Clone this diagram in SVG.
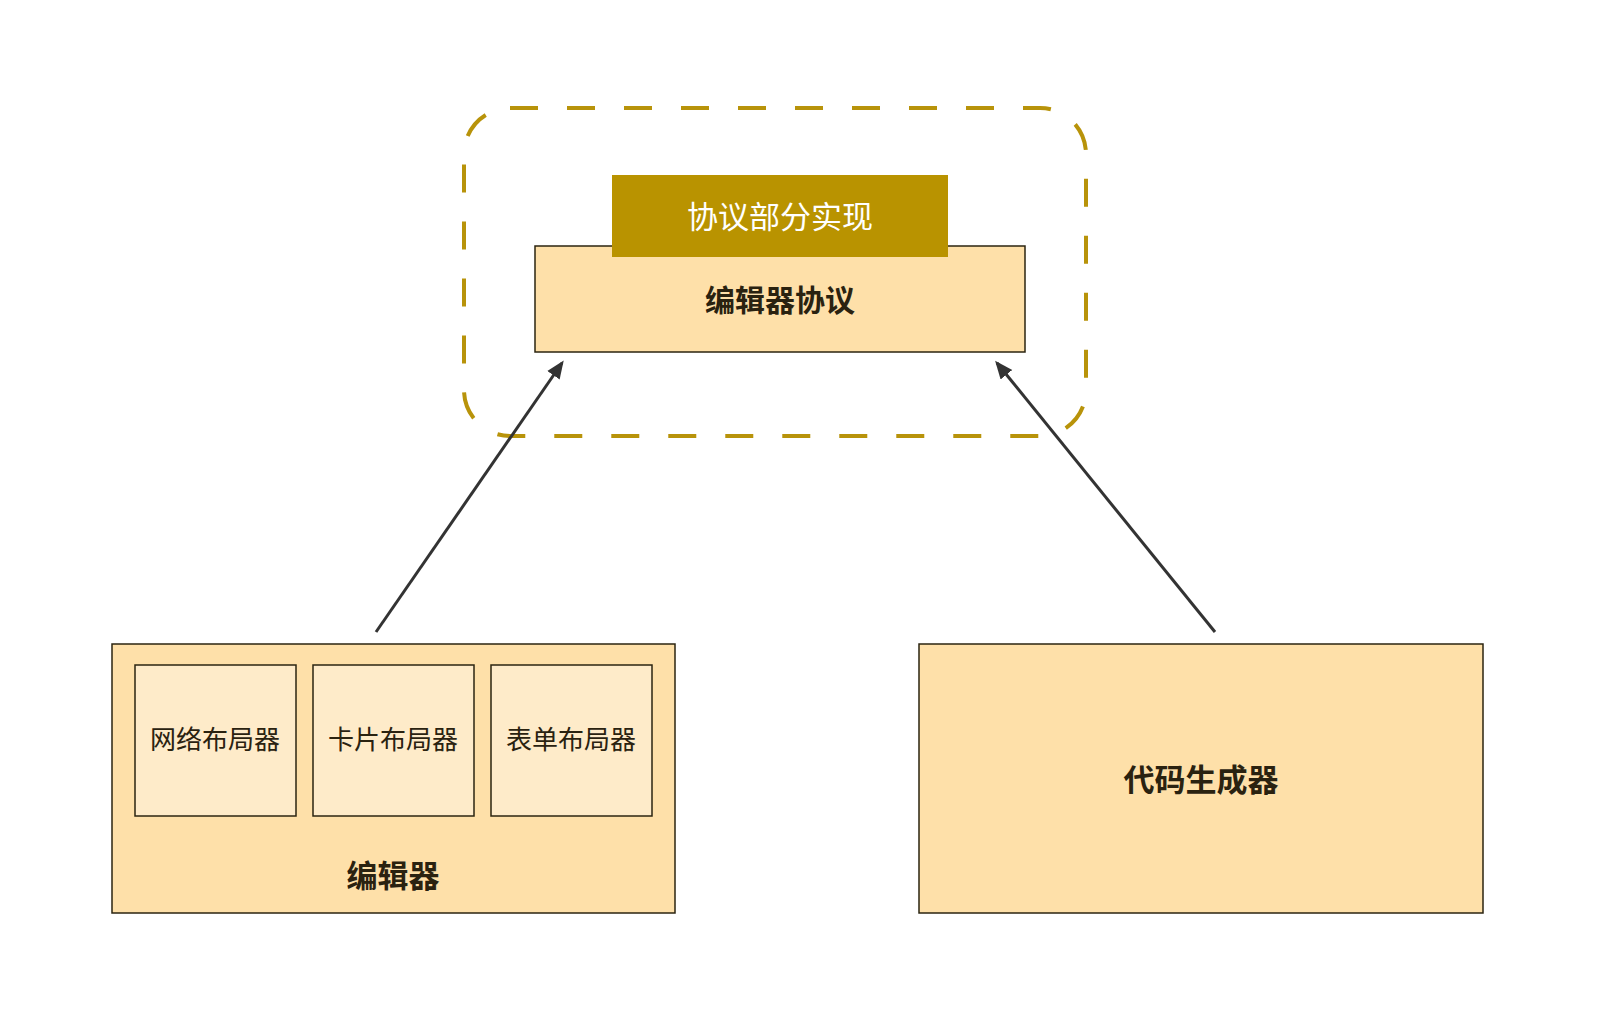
<svg xmlns="http://www.w3.org/2000/svg" width="1620" height="1035" viewBox="0 0 1620 1035">
<style>
.box{fill:#FEE0A9;stroke:#2b2410;stroke-width:1.5}
.inner{fill:#FEEBC9;stroke:#2b2410;stroke-width:1.5}
.t{font-family:"Noto Sans CJK SC","Noto Sans",sans-serif;text-anchor:middle;dominant-baseline:central;fill:#2a2210}
.b{font-weight:bold}
.conn{stroke:#333333;stroke-width:3;fill:none}
</style>
<defs>
<marker id="ah" viewBox="0 0 12 12" refX="10" refY="6" markerWidth="6" markerHeight="6" markerUnits="strokeWidth" orient="auto">
<path d="M0,1 L12,6 L0,11 Z" fill="#333333"/>
</marker>
</defs>
<rect width="1620" height="1035" fill="#ffffff"/>
<g id="group-protocol">
<rect x="464" y="108" width="622" height="328" rx="46" ry="46" fill="none" stroke="#B8930A" stroke-width="4" stroke-dasharray="28 29"/>
</g>
<g id="node-protocol">
<rect class="box" x="535" y="246" width="490" height="106"/>
<text class="t b" x="780" y="298" font-size="30">编辑器协议</text>
</g>
<g id="node-impl">
<rect x="612" y="175" width="336" height="82" fill="#B99300"/>
<text class="t" x="780" y="214" font-size="31" fill="#ffffff" style="fill:#ffffff">协议部分实现</text>
</g>
<g id="node-editor">
<rect class="box" x="112" y="644" width="563" height="269"/>
<text class="t b" x="393" y="873" font-size="31">编辑器</text>
</g>
<g id="node-grid">
<rect class="inner" x="135" y="665" width="161" height="151"/>
<text class="t" x="215" y="737" font-size="26">网络布局器</text>
</g>
<g id="node-card">
<rect class="inner" x="313" y="665" width="161" height="151"/>
<text class="t" x="393" y="737" font-size="26">卡片布局器</text>
</g>
<g id="node-form">
<rect class="inner" x="491" y="665" width="161" height="151"/>
<text class="t" x="571" y="737" font-size="26">表单布局器</text>
</g>
<g id="node-codegen">
<rect class="box" x="919" y="644" width="564" height="269"/>
<text class="t b" x="1201" y="777" font-size="31">代码生成器</text>
</g>
<g id="connectors">
<line class="conn" x1="376" y1="632" x2="562" y2="363" marker-end="url(#ah)"/>
<line class="conn" x1="1215" y1="632" x2="997" y2="363" marker-end="url(#ah)"/>
</g>
</svg>
